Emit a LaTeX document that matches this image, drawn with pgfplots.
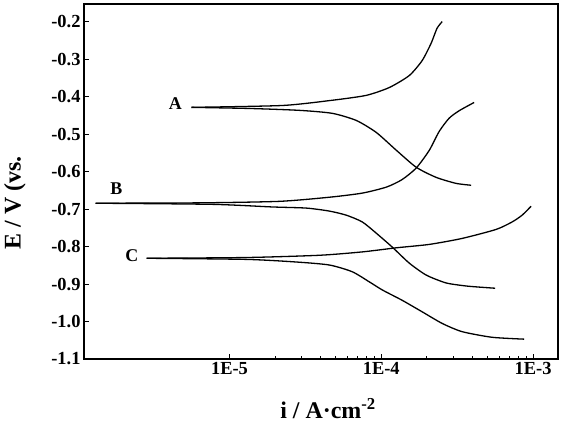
\documentclass[border=0pt]{standalone}
\usepackage{fontspec}
\setmainfont{Liberation Serif}
\usepackage{pgfplots}
\pgfplotsset{compat=1.18}
\begin{document}
\begin{tikzpicture}[curve/.style={black, line width=1.3bp, mark=none, smooth, tension=0.4}]
\useasboundingbox (-84bp,-65bp) rectangle (482bp,359bp);
\begin{axis}[
  at={(0,0)}, anchor=south west,
  scale only axis, width=474bp, height=355bp,
  xmode=log, xmin=1.1e-6, xmax=1.46e-3,
  ymin=-1.1, ymax=-0.152,
  xtick={1e-5,1e-4,1e-3}, xticklabels={1E-5,1E-4,1E-3},
  ytick={-1.1,-1.0,-0.9,-0.8,-0.7,-0.6,-0.5,-0.4,-0.3,-0.2},
  yticklabels={-1.1,-1.0,-0.9,-0.8,-0.7,-0.6,-0.5,-0.4,-0.3,-0.2},
  tick pos=left, tick align=inside,
  major tick length=5bp, minor tick length=3bp,
  every tick/.style={black, line width=1bp},
  axis line style={line width=1.6bp},
  tick label style={font=\fontsize{18.5}{20}\selectfont\bfseries},
  /pgf/number format/assume math mode=true,
  xlabel={i / A·cm\textsuperscript{-2}},
  ylabel={E / V (vs.},
  label style={font=\fontsize{24}{26}\selectfont\bfseries},
  xlabel style={at={(axis description cs:0.515,-0.14)}, anchor=center},
  ylabel style={at={(axis description cs:-0.146,0.44)}, anchor=center},
  clip=true,
]
% A anodic
\addplot[curve] coordinates {(5.62e-6,-0.428)(2.23e-5,-0.423)(4.76e-5,-0.409)(7.96e-5,-0.396)(1.13e-4,-0.375)(1.53e-4,-0.343)(1.86e-4,-0.303)(2.13e-4,-0.257)(2.33e-4,-0.217)(2.52e-4,-0.199)};
% A cathodic
\addplot[curve] coordinates {(5.62e-6,-0.428)(1.36e-5,-0.431)(2.89e-5,-0.436)(4.76e-5,-0.444)(6.85e-5,-0.463)(9.27e-5,-0.495)(1.26e-4,-0.543)(1.70e-4,-0.588)(2.30e-4,-0.615)(3.11e-4,-0.631)(3.91e-4,-0.636)};
% B anodic
\addplot[curve] coordinates {(1.31e-6,-0.684)(6.35e-6,-0.683)(2.13e-5,-0.679)(4.55e-5,-0.668)(7.50e-5,-0.657)(1.08e-4,-0.641)(1.37e-4,-0.621)(1.70e-4,-0.590)(2.07e-4,-0.543)(2.41e-4,-0.492)(2.80e-4,-0.457)(3.26e-4,-0.437)(4.09e-4,-0.415)};
% B cathodic
\addplot[curve] coordinates {(1.31e-6,-0.684)(7.73e-6,-0.687)(1.92e-5,-0.694)(3.21e-5,-0.697)(4.55e-5,-0.705)(5.89e-5,-0.716)(7.50e-5,-0.734)(9.27e-5,-0.764)(1.18e-4,-0.801)(1.53e-4,-0.844)(1.98e-4,-0.876)(2.68e-4,-0.897)(3.62e-4,-0.905)(4.42e-4,-0.908)(5.62e-4,-0.911)};
% C anodic
\addplot[curve] coordinates {(2.84e-6,-0.831)(1.29e-5,-0.829)(3.91e-5,-0.823)(7.50e-5,-0.814)(1.26e-4,-0.803)(2.07e-4,-0.794)(3.41e-4,-0.778)(5.71e-4,-0.754)(7.28e-4,-0.734)(8.47e-4,-0.716)(9.71e-4,-0.692)};
% C cathodic
\addplot[curve] coordinates {(2.84e-6,-0.831)(1.29e-5,-0.834)(2.76e-5,-0.841)(4.55e-5,-0.849)(6.44e-5,-0.867)(8.34e-5,-0.894)(1.02e-4,-0.916)(1.37e-4,-0.943)(1.86e-4,-0.974)(2.52e-4,-1.005)(3.41e-4,-1.027)(5.37e-4,-1.042)(8.73e-4,-1.047)};
\node[font=\fontsize{18}{20}\selectfont\bfseries] at (axis cs:4.4e-6,-0.417) {A};
\node[font=\fontsize{18}{20}\selectfont\bfseries] at (axis cs:1.8e-6,-0.644) {B};
\node[font=\fontsize{18}{20}\selectfont\bfseries] at (axis cs:2.27e-6,-0.825) {C};
\end{axis}
\end{tikzpicture}
\end{document}
